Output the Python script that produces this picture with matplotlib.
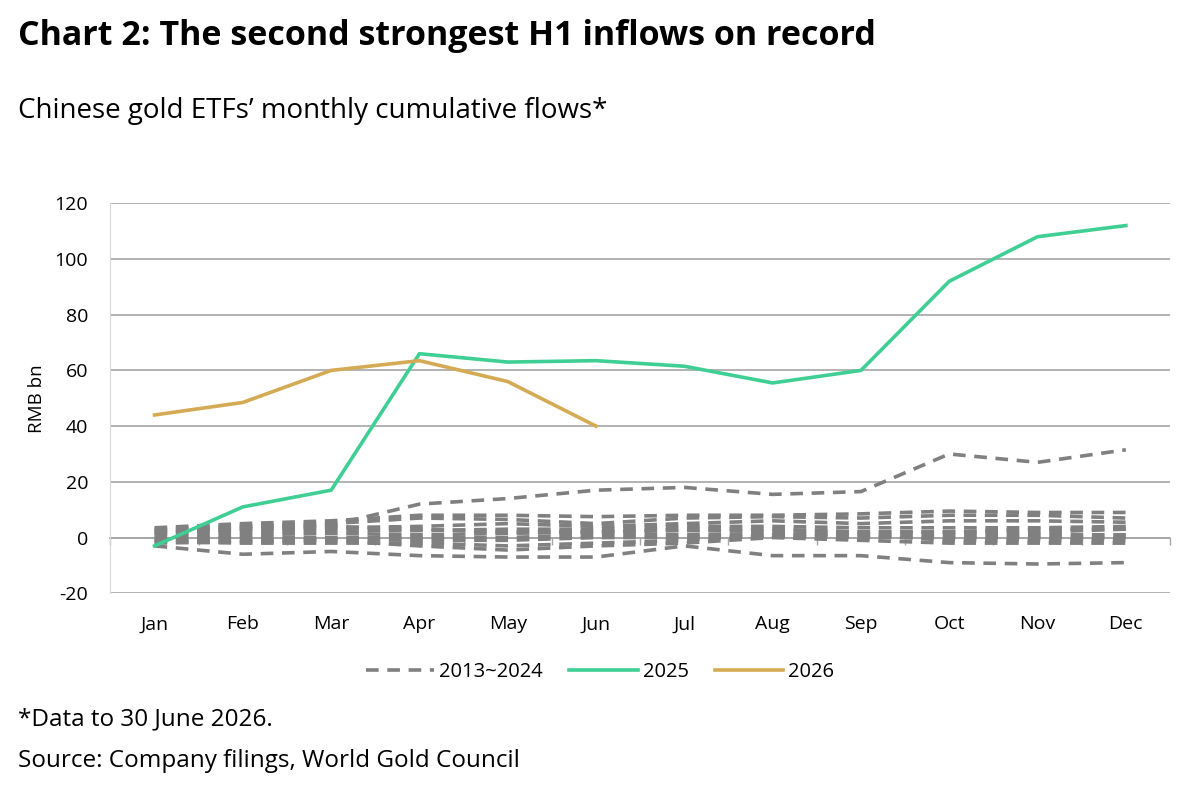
import numpy as np
import matplotlib.pyplot as plt

plt.rcParams['font.family'] = ['Open Sans', 'DejaVu Sans']
plt.rcParams['axes.unicode_minus'] = False

months = ["Jan", "Feb", "Mar", "Apr", "May", "Jun", "Jul", "Aug", "Sep", "Oct", "Nov", "Dec"]

# 2013~2024 cumulative flows (RMB bn)
hist = [
    [3, 4, 4.5, 12, 14, 17, 18, 15.5, 16.5, 30, 27, 31.5],
    [-3, -6, -5, -6.5, -7, -7, -3, -6.5, -6.5, -9, -9.5, -9],
    [3.5, 5, 6, 8, 8, 7.5, 8, 8, 8.5, 9.5, 9, 9],
    [2.5, 4, 5, 7, 6.5, 5, 7, 7.5, 7, 8, 8, 7],
    [1.5, 3, 3.5, 4, 5, 4, 5, 6, 5, 6, 6, 5.5],
    [1, 2, 2.5, 2.5, 3, 3, 4, 4, 3.5, 3.5, 3.5, 4],
    [0, 1, 1.5, 1, 1.5, 2, 2.5, 2.5, 2, 2, 2, 3],
    [-0.5, 0, 0, 0, 0, 1, 1, 1.5, 1, 1, 1, 1],
    [-1, -1, -0.5, -1, -1, 0, 0, 0.5, 0, 0, 0, 0],
    [-1.5, -2, -2, -2, -3, -2, -1, 1, 1, -1, -1, -1],
    [-2, -1.5, -1, -3, -4.5, -3, -2, 0, -1, -2, -2, -2],
    [2, 3, 4, 3, 2, 2, 3, 3, 2, 2, 3, 3],
]
flows_2025 = [-3, 11, 17, 66, 63, 63.5, 61.5, 55.5, 60, 92, 108, 112]
flows_2026 = [44, 48.5, 60, 63.5, 56, 40]

fig = plt.figure(figsize=(12, 7.91), dpi=100)
ax = fig.add_axes([0.092, 0.25, 0.883, 0.493])

x = np.arange(len(months))
for i, h in enumerate(hist):
    ax.plot(x, h, color="#808080", lw=2.6, dashes=(3.5, 2.4),
            label="2013~2024" if i == 0 else None)
ax.plot(x, flows_2025, color="#3fcf94", lw=2.6, label="2025")
ax.plot(x[:len(flows_2026)], flows_2026, color="#d4aa55", lw=2.6, label="2026")

ax.set_xlim(-0.5, 11.5)
ax.set_ylim(-20, 120)
ax.set_yticks(range(-20, 121, 20))
ax.set_xticks(x)
ax.set_xticklabels(months)
ax.yaxis.grid(True, color="#a6a6a6", lw=1.2)
ax.set_axisbelow(True)
for s in ["top", "right", "bottom"]:
    ax.spines[s].set_visible(False)
ax.spines["left"].set_color("#d9d9d9")
ax.tick_params(axis="both", length=0, labelsize=14)
ax.tick_params(axis="x", pad=16)
ax.tick_params(axis="y", pad=16)
ax.set_ylabel("RMB bn", fontsize=13.5, labelpad=6)

# category axis drawn on the zero line, with ticks between months
zero_ax = ax.secondary_xaxis(20 / 140)
zero_ax.spines["bottom"].set_color("#a6a6a6")
zero_ax.spines["bottom"].set_linewidth(1.2)
zero_ax.set_xticks(np.arange(-0.5, 12, 1))
zero_ax.tick_params(length=5, width=1, color="#a6a6a6", labelbottom=False)
zero_ax.set_zorder(0.5)

fig.legend(loc="center", bbox_to_anchor=(0.5, 0.15), ncol=3, frameon=False,
           fontsize=14.5, handlelength=3.4, handletextpad=0.25, columnspacing=1.3)

fig.text(0.015, 0.955, "Chart 2: The second strongest H1 inflows on record",
         fontsize=24.5, fontweight="bold", va="center")
fig.text(0.015, 0.86, "Chinese gold ETFs\u2019 monthly cumulative flows*",
         fontsize=20, va="center")
fig.text(0.015, 0.09, "*Data to 30 June 2026.", fontsize=17.5, va="center")
fig.text(0.015, 0.038, "Source: Company filings, World Gold Council", fontsize=17.5, va="center")

fig.savefig("out.png", dpi=100, facecolor="white")
